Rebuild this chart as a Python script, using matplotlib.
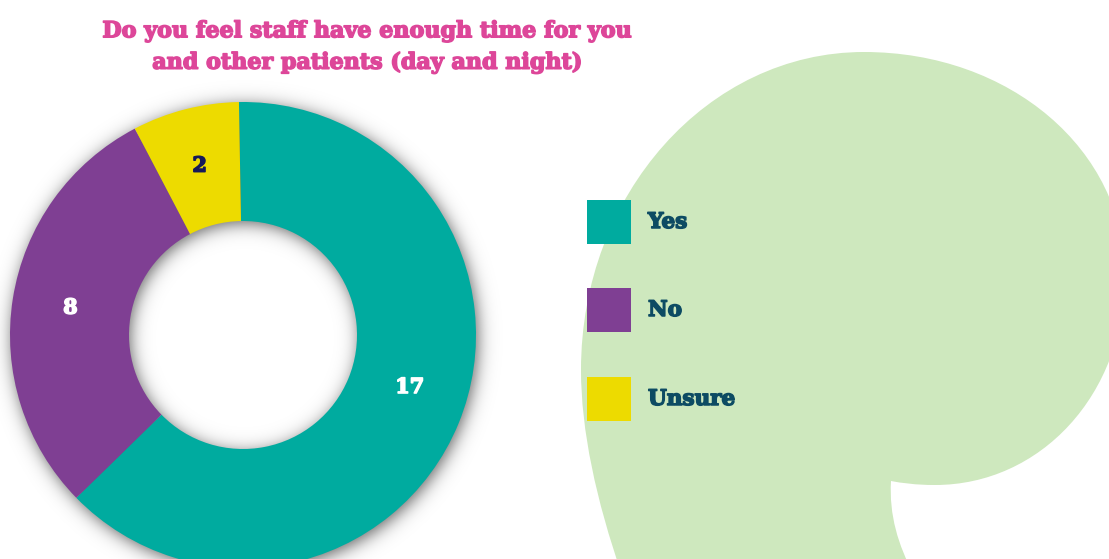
import numpy as np
import matplotlib
matplotlib.use("Agg")
import matplotlib.pyplot as plt
import matplotlib.patheffects as pe
from matplotlib.path import Path
from matplotlib.patches import PathPatch, Rectangle

# ---- data ----
categories = ["Yes", "No", "Unsure"]
counts = [17, 8, 2]
colors = ["#00ab9f", "#7f3f93", "#eddb00"]
label_colors = ["white", "white", "#16195a"]
title = "Do you feel staff have enough time for you\nand other patients (day and night)"

W, H = 1109, 559
DPI = 100
fig = plt.figure(figsize=(W / DPI, H / DPI), dpi=DPI, facecolor="white")


def heavy(color, lw=1.1):
    """Thicken bold glyphs with an outline of the same colour."""
    return [pe.withStroke(linewidth=lw, foreground=color)]


# full-figure canvas in pixel coordinates (y downwards)
bg = fig.add_axes([0, 0, 1, 1], zorder=0)
bg.set_xlim(0, W)
bg.set_ylim(H, 0)
bg.axis("off")

# decorative speech-bubble shape behind the legend
verts = [
    (622, 575),
    (596, 500), (581, 430), (581, 370),
    (581, 194), (708, 52), (864, 52),
    (1010, 52), (1125, 150), (1125, 275),
    (1125, 395), (1040, 485), (935, 485),
    (915, 485), (902, 483), (891, 481),
    (889, 515), (898, 545), (914, 575),
    (622, 575),
]
codes = [Path.MOVETO] + [Path.CURVE4] * 18 + [Path.CLOSEPOLY]
bg.add_patch(PathPatch(Path(verts, codes), facecolor="#cee8be",
                       edgecolor="none", zorder=0))

# donut geometry (pixels)
cx, cy = 243.0, 335.0
R_out, R_in = 233.0, 114.0

# soft drop shadow under the ring
yy, xx = np.mgrid[0:H, 0:W] + 0.5
rr = np.hypot(xx - cx - 2.0, yy - cy - 3.0)
sd = np.maximum(rr - R_out, R_in - rr)
alpha = 0.6 / (1.0 + np.exp(sd / 5.0))
shadow = np.zeros((H, W, 4))
shadow[..., 3] = alpha
bg.imshow(shadow, extent=[0, W, H, 0], zorder=1, interpolation="bilinear")

# donut chart
pie_ax = fig.add_axes([(cx - R_out) / W, (H - cy - R_out) / H,
                       2 * R_out / W, 2 * R_out / H], zorder=2)
wedges, _ = pie_ax.pie(counts, colors=colors, startangle=91,
                       counterclock=False, radius=1.0,
                       wedgeprops=dict(width=(R_out - R_in) / R_out,
                                       linewidth=0))
pie_ax.set_xlim(-1, 1)
pie_ax.set_ylim(-1, 1)
pie_ax.set_aspect("equal")
pie_ax.axis("off")

label_r = 0.75
nudge = {0: 5.0}
for i, (w, v) in enumerate(zip(wedges, counts)):
    ang = np.deg2rad((w.theta1 + w.theta2) / 2 + nudge.get(i, 0.0))
    pie_ax.text(label_r * np.cos(ang), label_r * np.sin(ang), str(v),
                ha="center", va="center", fontsize=15, fontweight="bold",
                family="DejaVu Serif", color=label_colors[i],
                path_effects=heavy(label_colors[i]))

# title
fig.text(367 / W, 1 - 47 / H, title, ha="center", va="center",
         fontsize=16, fontweight="bold", family="DejaVu Serif",
         color="#dd4699", linespacing=1.55, path_effects=heavy("#dd4699"))

# legend
leg_y = [222, 310, 399]
for cat, col, y in zip(categories, colors, leg_y):
    bg.add_patch(Rectangle((587, y - 22), 44, 44, facecolor=col,
                           edgecolor="none", zorder=3))
    bg.text(648, y, cat, ha="left", va="center", fontsize=15.5,
            fontweight="bold", family="DejaVu Serif", color="#0d4b63",
            zorder=3, path_effects=heavy("#0d4b63"))

fig.savefig("out.png", dpi=DPI, facecolor="white")
